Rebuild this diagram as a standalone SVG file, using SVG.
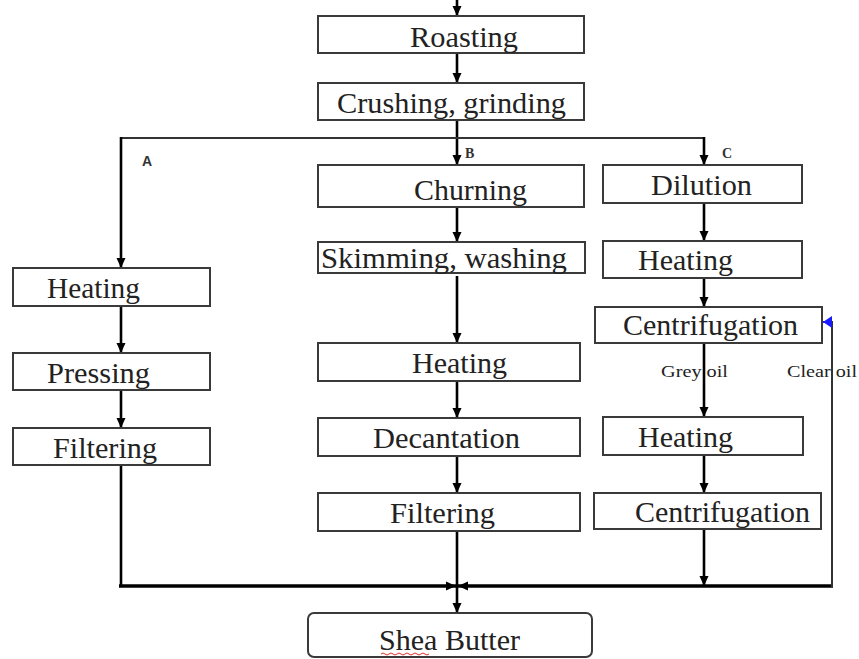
<svg xmlns="http://www.w3.org/2000/svg" width="859" height="659" viewBox="0 0 859 659">
<defs>
<marker id="ah" markerUnits="userSpaceOnUse" markerWidth="10" markerHeight="10" refX="10" refY="5" orient="auto">
<path d="M0,0.5 L10,5 L0,9.5 z" fill="#000"/>
</marker>
<marker id="ahb" markerUnits="userSpaceOnUse" markerWidth="10" markerHeight="12" refX="9" refY="6" orient="auto">
<path d="M0,0 L9,6 L0,12 z" fill="#1a1aff"/>
</marker>
<style>
.box{fill:#fff;stroke:#3a3a3a;stroke-width:2}
.t{font-family:"Liberation Serif","Times New Roman",serif;font-size:29px;fill:#222}
.s{font-family:"Liberation Serif","Times New Roman",serif;font-size:17px;fill:#222}
.lbl{font-family:"Liberation Serif","Times New Roman",serif;font-size:14px;font-weight:bold;fill:#333}
.lblA{font-family:"Liberation Sans",Arial,sans-serif;font-size:14px;font-weight:bold;fill:#333}
.c{fill:none;stroke:#000;stroke-width:2.6}
.ca{fill:none;stroke:#000;stroke-width:2.6;marker-end:url(#ah)}
.cb{fill:none;stroke:#000;stroke-width:3.4;marker-end:url(#ah)}
.thin{fill:none;stroke:#333;stroke-width:2}
</style>
</defs>
<rect width="859" height="659" fill="#fff"/>

<g id="connectors">
<path class="ca" d="M457,0 V16"/>
<path class="ca" d="M457,53 V83"/>
<path class="ca" d="M457,120 V165"/>
<path class="thin" d="M121,138 H704"/>
<path class="ca" d="M121,137 V268"/>
<path class="ca" d="M704,137 V165"/>
<path class="ca" d="M457,207 V242"/>
<path class="ca" d="M457,276 V343"/>
<path class="ca" d="M457,381 V418"/>
<path class="ca" d="M457,456 V493"/>
<path class="ca" d="M457,531 V613"/>
<path class="ca" d="M704,203 V241"/>
<path class="ca" d="M704,278 V307"/>
<path class="ca" d="M704,343 V417"/>
<path class="ca" d="M704,455 V493"/>
<path class="ca" d="M704,529 V586"/>
<path class="ca" d="M121,306 V353"/>
<path class="ca" d="M121,390 V428"/>
<path class="c" d="M121,465 V586"/>
<path class="cb" d="M119,586 H456"/>
<path class="cb" d="M833,586 H458"/>
<path class="thin" d="M832,587 V322 H829"/>
<path d="M830,322 H823" stroke="#1a1aff" stroke-width="2" fill="none" marker-end="url(#ahb)"/>
</g>

<g id="node-roasting"><rect class="box" x="318" y="16" width="266" height="37"/><text class="t" x="410" y="47" textLength="108" lengthAdjust="spacingAndGlyphs">Roasting</text></g>
<g id="node-crushing"><rect class="box" x="318" y="83" width="266" height="37"/><text class="t" x="337" y="113" textLength="229" lengthAdjust="spacingAndGlyphs">Crushing, grinding</text></g>
<g id="node-churning"><rect class="box" x="318" y="165" width="266" height="42"/><text class="t" x="414" y="200" textLength="113" lengthAdjust="spacingAndGlyphs">Churning</text></g>
<g id="node-dilution"><rect class="box" x="603" y="165" width="199" height="38"/><text class="t" x="651" y="195" textLength="101" lengthAdjust="spacingAndGlyphs">Dilution</text></g>
<g id="node-skimming"><rect class="box" x="318" y="242" width="267" height="31"/><text class="t" x="321" y="268" textLength="246" lengthAdjust="spacingAndGlyphs">Skimming, washing</text></g>
<g id="node-heating-c1"><rect class="box" x="603" y="241" width="199" height="37"/><text class="t" x="638" y="270" textLength="95" lengthAdjust="spacingAndGlyphs">Heating</text></g>
<g id="node-centrifugation-1"><rect class="box" x="595" y="307" width="227" height="36"/><text class="t" x="623" y="335" textLength="175" lengthAdjust="spacingAndGlyphs">Centrifugation</text></g>
<g id="node-heating-b"><rect class="box" x="318" y="343" width="262" height="38"/><text class="t" x="412" y="373" textLength="95" lengthAdjust="spacingAndGlyphs">Heating</text></g>
<g id="node-heating-c2"><rect class="box" x="603" y="417" width="200" height="38"/><text class="t" x="638" y="447" textLength="95" lengthAdjust="spacingAndGlyphs">Heating</text></g>
<g id="node-decantation"><rect class="box" x="318" y="418" width="262" height="38"/><text class="t" x="373" y="448" textLength="147" lengthAdjust="spacingAndGlyphs">Decantation</text></g>
<g id="node-centrifugation-2"><rect class="box" x="594" y="493" width="227" height="36"/><text class="t" x="635" y="522" textLength="175" lengthAdjust="spacingAndGlyphs">Centrifugation</text></g>
<g id="node-filtering-b"><rect class="box" x="318" y="493" width="262" height="38"/><text class="t" x="390" y="523" textLength="105" lengthAdjust="spacingAndGlyphs">Filtering</text></g>
<g id="node-heating-a"><rect class="box" x="13" y="268" width="197" height="38"/><text class="t" x="47" y="298" textLength="93" lengthAdjust="spacingAndGlyphs">Heating</text></g>
<g id="node-pressing-a"><rect class="box" x="13" y="353" width="197" height="37"/><text class="t" x="47" y="383" textLength="103" lengthAdjust="spacingAndGlyphs">Pressing</text></g>
<g id="node-filtering-a"><rect class="box" x="13" y="428" width="197" height="37"/><text class="t" x="53" y="458" textLength="104" lengthAdjust="spacingAndGlyphs">Filtering</text></g>
<g id="node-shea-butter"><rect class="box" x="308" y="613" width="284" height="44" rx="6"/><text class="t" x="379" y="650" textLength="141" lengthAdjust="spacingAndGlyphs">Shea Butter</text>
<path d="M381,654 q2,-2 4,0 t4,0 t4,0 t4,0 t4,0 t4,0 t4,0 t4,0 t4,0 t4,0 t4,0 t4,0" fill="none" stroke="#e03030" stroke-width="1"/></g>

<g id="labels">
<text class="lblA" x="142" y="166">A</text>
<text class="lbl" x="465" y="158">B</text>
<text class="lbl" x="722" y="158">C</text>
<text class="s" x="661" y="377" textLength="67" lengthAdjust="spacingAndGlyphs">Grey oil</text>
<text class="s" x="787" y="377" textLength="70" lengthAdjust="spacingAndGlyphs">Clear oil</text>
</g>
</svg>
